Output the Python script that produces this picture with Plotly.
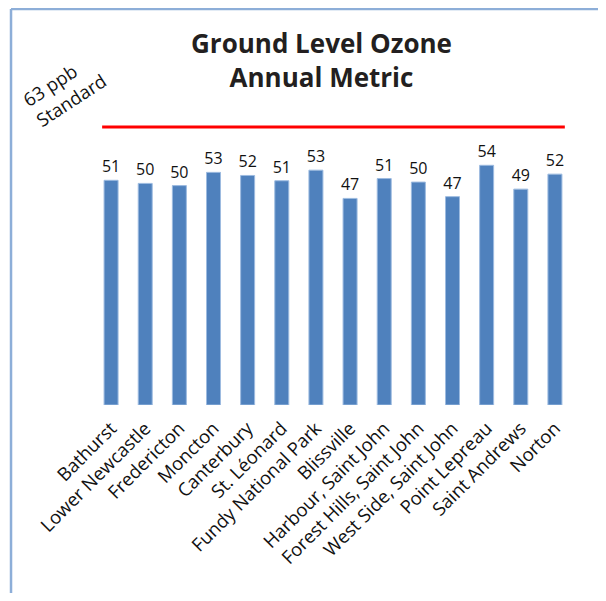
import plotly.graph_objects as go

# Stations et valeurs (ppb)
stations = ["Bathurst", "Lower Newcastle", "Fredericton", "Moncton", "Canterbury",
            "St. Léonard", "Fundy National Park", "Blissville", "Harbour, Saint John",
            "Forest Hills, Saint John", "West Side, Saint John", "Point Lepreau",
            "Saint Andrews", "Norton"]
ozone = [50.9, 50.2, 49.7, 52.7, 52.0, 50.8, 53.2, 46.8, 51.3, 50.5, 47.2, 54.3, 48.9, 52.3]
labels = ["51", "50", "50", "53", "52", "51", "53", "47", "51", "50", "47", "54", "49", "52"]
standard = 63

font_family = "Open Sans, Noto Sans, sans-serif"
border_col = "#8DAED8"

fig = go.Figure()

fig.add_trace(go.Bar(
    x=stations,
    y=ozone,
    text=labels,
    textposition="outside",
    constraintext="none",
    textfont=dict(size=16, color="#111111", family=font_family),
    cliponaxis=False,
    marker=dict(color="#4F81BD", line=dict(color="#9DBBE0", width=1)),
    width=0.41,
    hoverinfo="x+y",
))

# Ligne rouge de la norme
fig.add_shape(type="line", xref="paper", yref="y",
              x0=0.017, x1=0.985, y0=standard, y1=standard,
              line=dict(color="#FF0000", width=3))

# Cadre bleu clair (gauche et haut)
fig.add_shape(type="line", xref="paper", yref="paper",
              x0=-0.1736, x1=-0.1736, y0=1.2816, y1=-0.7,
              line=dict(color=border_col, width=2.5))
fig.add_shape(type="line", xref="paper", yref="paper",
              x0=-0.1736, x1=1.2, y0=1.2816, y1=1.2816,
              line=dict(color=border_col, width=2.5))

fig.add_annotation(
    text="<b>Ground Level Ozone<br>Annual Metric</b>",
    xref="paper", yref="paper", x=0.475, y=1.115,
    xanchor="center", yanchor="middle", showarrow=False,
    font=dict(size=26, color="#231F20", family=font_family),
)

fig.add_annotation(
    text=f"{standard} ppb<br>Standard",
    xref="paper", yref="paper", x=-0.061, y=1.02,
    xanchor="center", yanchor="middle", showarrow=False,
    textangle=-33, align="left",
    font=dict(size=18.5, color="#111111", family=font_family),
)

# la page ajoute une marge de 8 px autour de la figure
fig.update_layout(
    width=590, height=585,
    margin=dict(l=86, r=26, t=88, b=188),
    paper_bgcolor="white", plot_bgcolor="white",
    showlegend=False,
    font=dict(family=font_family, color="#111111"),
    xaxis=dict(tickangle=-45, tickfont=dict(size=18.5, color="#111111"), showline=False,
               ticks="", ticklabelstandoff=8, showgrid=False, fixedrange=True),
    yaxis=dict(range=[0, 70], visible=False, showgrid=False, fixedrange=True),
)

fig.write_html("out.html")
